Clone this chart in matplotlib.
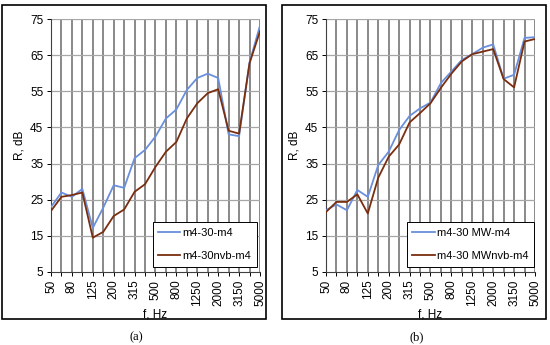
import matplotlib
matplotlib.use('Agg')
import matplotlib.pyplot as plt
from matplotlib.patches import Rectangle

plt.rcParams['font.family'] = ['Liberation Sans', 'DejaVu Sans']

freqs = ['50', '63', '80', '100', '125', '160', '200', '250', '315', '400', '500',
         '630', '800', '1000', '1250', '1600', '2000', '2500', '3150', '4000', '5000']

# panel (a)
m4_30_m4 = [23, 27, 25.8, 28, 17.2, 22.8, 29, 28.3, 36.5, 38.8, 42.5,
            47.5, 50, 55.4, 58.7, 59.9, 58.7, 43.1, 42.6, 63, 73.2]
m4_30nvb_m4 = [21.9, 25.8, 26.3, 27, 14.5, 16.1, 20.5, 22.3, 27.2, 29.3, 34.1,
               38.3, 41, 47.5, 51.7, 54.5, 55.6, 44.1, 43.3, 62.8, 71.6]

# panel (b)
m4_30_mw_m4 = [22.1, 23.7, 22.1, 27.7, 25.8, 34.6, 38.3, 44.3, 48.2, 50.3, 51.9,
               57.3, 60.5, 63.7, 65.3, 67.1, 68, 58.5, 59.6, 69.8, 70]
m4_30_mwnvb_m4 = [21.6, 24.4, 24.4, 26.5, 21.2, 31.1, 36.9, 40.3, 46.4, 49, 51.7,
                  56, 59.9, 63.3, 65.3, 66, 66.7, 58.4, 56.1, 68.8, 69.5]

blue = '#6a8fdc'
brown = '#7a2e10'

fig = plt.figure(figsize=(5.5, 3.45), dpi=100)

panels = [
    (0.0927, 0.0036, m4_30_m4, m4_30nvb_m4, 'm4-30-m4', 'm4-30nvb-m4', '(a)', (0.985, 0.02)),
    (0.5927, 0.5127, m4_30_mw_m4, m4_30_mwnvb_m4, 'm4-30 MW-m4', 'm4-30 MWnvb-m4', '(b)', (0.995, 0.02)),
]

x = list(range(len(freqs)))

for left, frame_x, s1, s2, n1, n2, cap, anchor in panels:
    ax = fig.add_axes([left, 0.2116, 0.38, 0.733])
    for xi in x:
        ax.axvline(xi, color='#808080', lw=1.3, zorder=1)
    for yv in range(15, 80, 10):
        ax.axhline(yv, color='#a6a6a6', lw=0.9, zorder=1)
    ax.plot(x, s1, color=blue, lw=1.3, label=n1, zorder=3)
    ax.plot(x, s2, color=brown, lw=1.3, label=n2, zorder=3)
    ax.set_xlim(0, 20)
    ax.set_ylim(5, 75)
    ax.set_yticks(range(5, 80, 10))
    ax.set_xticks(x)
    ax.set_xticklabels([f if i % 2 == 0 else '' for i, f in enumerate(freqs)], rotation=90)
    ax.tick_params(labelsize=8.5, length=3, width=0.7, colors='black', pad=2.5)
    for s in ['top', 'right']:
        ax.spines[s].set_visible(False)
    for s in ['left', 'bottom']:
        ax.spines[s].set_color('#404040')
        ax.spines[s].set_linewidth(0.8)
    ax.set_ylabel('R, dB', fontsize=8.5, labelpad=3)
    ax.set_xlabel('f, Hz', fontsize=8.5, labelpad=2)
    leg = ax.legend(loc='lower right', bbox_to_anchor=anchor, fontsize=8, frameon=True,
                    fancybox=False, edgecolor='black', framealpha=1, handlelength=2.0,
                    labelspacing=1.2, borderpad=0.5, handletextpad=0.2, borderaxespad=0)
    leg.get_frame().set_linewidth(0.7)
    fig.patches.append(Rectangle((frame_x, 0.0754), 0.48, 0.91, transform=fig.transFigure,
                                 fill=False, edgecolor='black', lw=1.2))
    fig.text(frame_x + 0.245, 0.022, cap, ha='center', va='center',
             fontsize=9, family='Liberation Serif')

fig.savefig('out.png', dpi=100)
